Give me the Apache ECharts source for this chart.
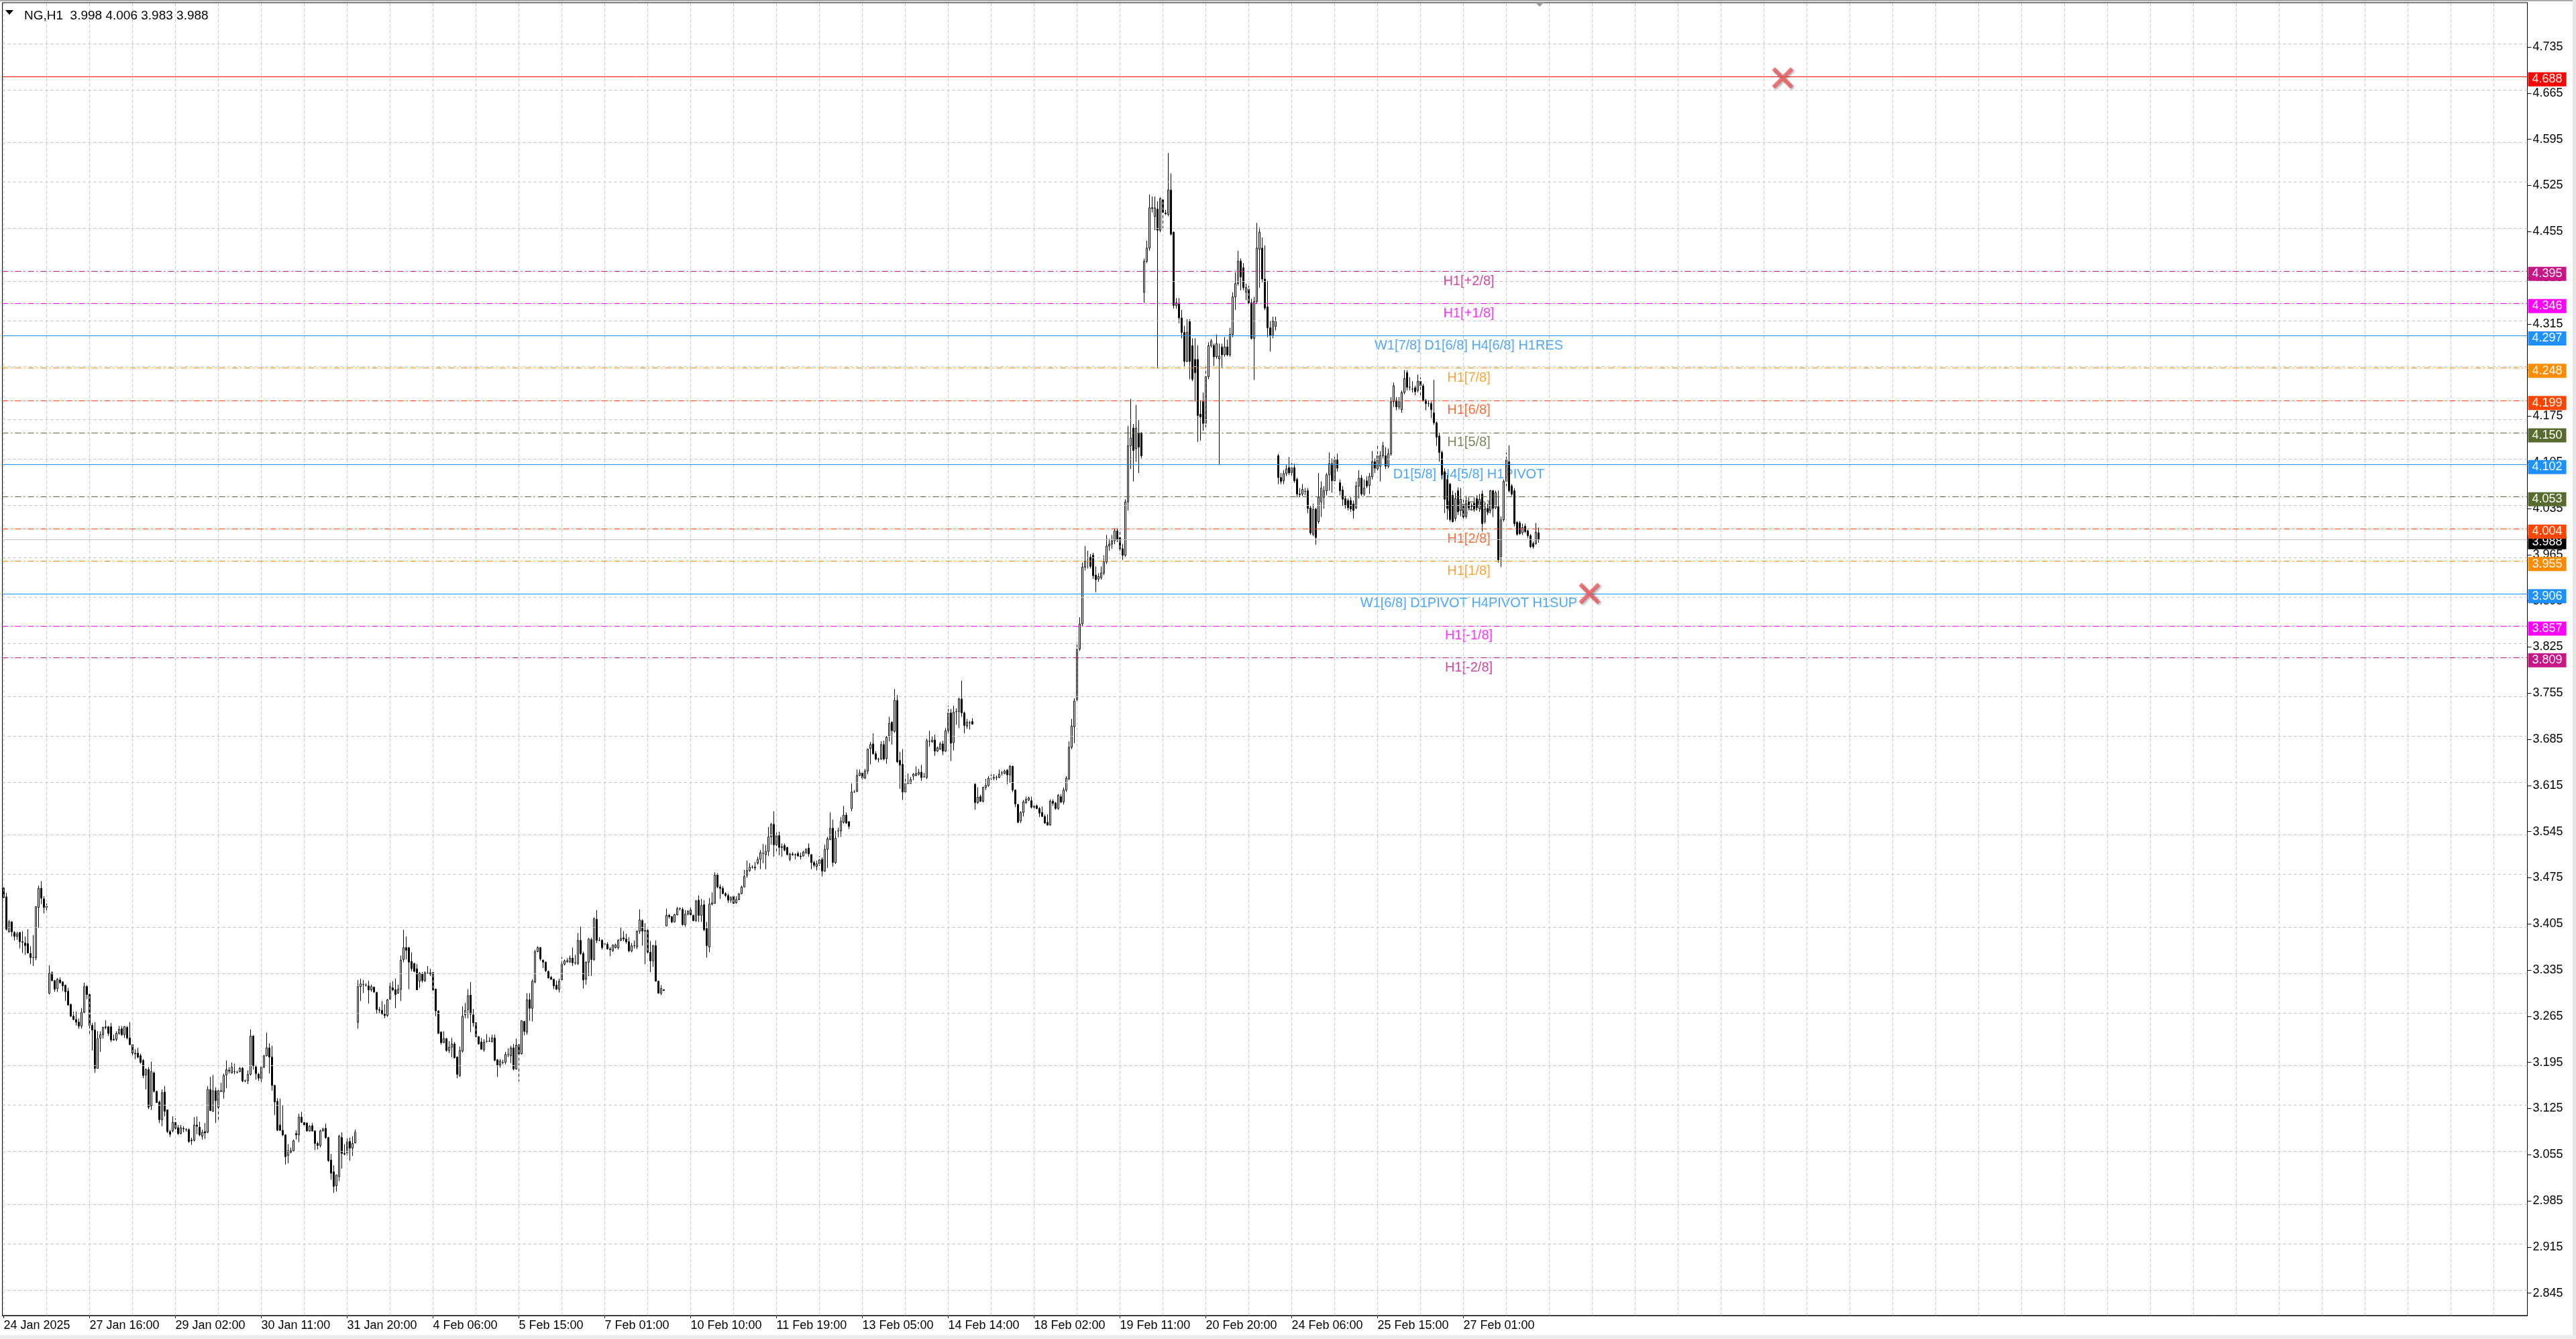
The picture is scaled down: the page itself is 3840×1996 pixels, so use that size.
<!DOCTYPE html>
<html>
<head>
<meta charset="utf-8">
<script src="https://cdn.jsdelivr.net/npm/echarts@6.0.0/dist/echarts.min.js"></script>
<style>
html,body{margin:0;padding:0;background:#fff;}
#chart{width:3840px;height:1996px;}
</style>
</head>
<body>
<div id="chart"></div>
<script>
// ---------------- DATA ----------------
// Hourly bars [open, high, low, close], grouped by price-gap clusters.
const segA = [
[3.459,3.461,3.444,3.445],[3.446,3.452,3.395,3.397],[3.393,3.411,3.392,3.408],[3.408,3.409,3.386,3.393],
[3.392,3.394,3.380,3.386],[3.386,3.393,3.381,3.390],[3.392,3.393,3.368,3.378],[3.378,3.394,3.361,3.377],
[3.376,3.386,3.358,3.372],[3.375,3.397,3.360,3.361],[3.360,3.371,3.344,3.354],[3.354,3.388,3.341,3.354],
[3.354,3.432,3.350,3.431],[3.430,3.463,3.399,3.459],[3.459,3.470,3.435,3.444],[3.443,3.447,3.421,3.430],
[3.430,3.436,3.425,3.432]
];
const segB = [
[3.300,3.342,3.298,3.330],[3.331,3.333,3.318,3.319],[3.319,3.320,3.302,3.306],[3.307,3.323,3.302,3.321],
[3.320,3.324,3.314,3.316],[3.317,3.318,3.303,3.311],[3.312,3.313,3.288,3.302],[3.303,3.308,3.281,3.282],
[3.283,3.284,3.264,3.265],[3.265,3.272,3.259,3.260],[3.260,3.272,3.251,3.256],[3.256,3.262,3.246,3.250],
[3.250,3.277,3.246,3.271],[3.271,3.316,3.269,3.310],[3.310,3.312,3.291,3.298],[3.298,3.299,3.235,3.251],
[3.251,3.255,3.213,3.244],[3.244,3.256,3.179,3.186],[3.186,3.242,3.186,3.231],[3.232,3.242,3.211,3.237],
[3.237,3.249,3.231,3.248],[3.248,3.259,3.245,3.249],[3.249,3.250,3.235,3.239],[3.249,3.255,3.226,3.229],
[3.230,3.237,3.228,3.229],[3.230,3.242,3.227,3.239],[3.239,3.250,3.237,3.245],[3.246,3.250,3.235,3.237],
[3.237,3.250,3.232,3.249],[3.248,3.250,3.230,3.232],[3.232,3.256,3.221,3.222],[3.222,3.222,3.202,3.209],
[3.209,3.215,3.200,3.208],[3.209,3.217,3.201,3.203],[3.205,3.208,3.193,3.195],[3.198,3.200,3.171,3.175],
[3.176,3.186,3.154,3.184],[3.184,3.188,3.124,3.127],[3.129,3.196,3.123,3.181],[3.179,3.181,3.149,3.151],
[3.151,3.152,3.134,3.134],[3.135,3.137,3.103,3.108],[3.108,3.154,3.098,3.149],[3.150,3.159,3.113,3.121],
[3.123,3.123,3.088,3.090],[3.090,3.093,3.082,3.086],[3.091,3.113,3.089,3.104],[3.104,3.110,3.093,3.095],
[3.096,3.100,3.085,3.087],[3.087,3.100,3.086,3.096],[3.094,3.098,3.089,3.095],[3.093,3.095,3.090,3.093],
[3.093,3.095,3.073,3.075],[3.077,3.081,3.070,3.076],[3.077,3.112,3.075,3.100],[3.100,3.113,3.086,3.098],
[3.097,3.105,3.083,3.085],[3.083,3.093,3.078,3.089],[3.090,3.103,3.079,3.088],[3.089,3.159,3.088,3.154],
[3.154,3.173,3.121,3.122],[3.121,3.176,3.120,3.152],[3.152,3.157,3.103,3.137],[3.127,3.157,3.107,3.152],
[3.152,3.164,3.150,3.151],[3.150,3.178,3.140,3.175],[3.176,3.198,3.156,3.184],[3.183,3.188,3.178,3.182],
[3.179,3.195,3.178,3.188],[3.181,3.193,3.177,3.181],[3.180,3.182,3.178,3.180],[3.181,3.188,3.180,3.186],
[3.186,3.188,3.165,3.167],[3.167,3.169,3.165,3.167],[3.167,3.183,3.162,3.177],[3.177,3.245,3.175,3.235],
[3.235,3.236,3.184,3.190],[3.188,3.191,3.169,3.178],[3.177,3.179,3.167,3.171],[3.170,3.189,3.165,3.188],
[3.188,3.206,3.186,3.205],[3.205,3.240,3.204,3.217],[3.217,3.224,3.178,3.203],[3.203,3.220,3.152,3.160],
[3.160,3.161,3.115,3.135],[3.136,3.141,3.091,3.092],[3.100,3.140,3.091,3.092],[3.092,3.130,3.083,3.085],
[3.085,3.086,3.040,3.052],[3.054,3.071,3.042,3.061],[3.059,3.066,3.057,3.061],[3.061,3.078,3.060,3.076],
[3.087,3.092,3.078,3.085],[3.085,3.117,3.074,3.112],[3.112,3.120,3.103,3.104],[3.104,3.106,3.098,3.100],
[3.103,3.104,3.090,3.091],[3.091,3.100,3.090,3.098],[3.099,3.103,3.090,3.091],[3.091,3.092,3.062,3.072],
[3.072,3.075,3.063,3.069],[3.069,3.093,3.066,3.091],[3.091,3.096,3.090,3.094],[3.095,3.102,3.079,3.081],
[3.081,3.082,3.044,3.046],[3.047,3.056,3.017,3.027],[3.029,3.039,2.997,3.007],[3.008,3.025,2.999,3.024],
[3.022,3.085,3.015,3.083],[3.081,3.089,3.034,3.057],[3.057,3.071,3.054,3.056],[3.057,3.083,3.054,3.075],
[3.075,3.081,3.046,3.065],[3.065,3.083,3.053,3.072],[3.073,3.093,3.072,3.089]
];
const segC = [
[3.256,3.320,3.246,3.310],[3.310,3.322,3.288,3.314],[3.313,3.320,3.300,3.313],[3.312,3.315,3.310,3.312],
[3.311,3.319,3.284,3.305],[3.305,3.313,3.302,3.310],[3.309,3.310,3.300,3.302],[3.301,3.302,3.269,3.275],
[3.275,3.279,3.269,3.274],[3.274,3.288,3.267,3.269],[3.269,3.283,3.262,3.266],[3.266,3.291,3.264,3.290],
[3.291,3.317,3.290,3.311],[3.308,3.318,3.303,3.305],[3.305,3.322,3.277,3.298],[3.300,3.313,3.299,3.306],
[3.306,3.357,3.288,3.350],[3.351,3.396,3.347,3.369],[3.369,3.386,3.351,3.365],[3.369,3.370,3.306,3.347],
[3.348,3.362,3.333,3.337],[3.345,3.346,3.332,3.333],[3.337,3.344,3.305,3.305],[3.318,3.332,3.308,3.330],
[3.329,3.332,3.316,3.319],[3.319,3.333,3.317,3.331],[3.330,3.341,3.329,3.330],[3.329,3.337,3.326,3.331],
[3.331,3.336,3.299,3.305],[3.306,3.307,3.265,3.273],[3.273,3.274,3.238,3.239],[3.241,3.242,3.222,3.225],
[3.225,3.242,3.224,3.231],[3.231,3.232,3.211,3.213],[3.213,3.227,3.209,3.218],[3.218,3.232,3.203,3.223],
[3.223,3.226,3.201,3.202],[3.203,3.204,3.171,3.177],[3.175,3.219,3.173,3.213],[3.212,3.280,3.210,3.265],
[3.267,3.285,3.262,3.274],[3.275,3.306,3.262,3.296],[3.297,3.317,3.241,3.268],[3.267,3.276,3.249,3.255],
[3.255,3.256,3.233,3.234],[3.234,3.235,3.222,3.223],[3.226,3.232,3.214,3.215],[3.214,3.230,3.211,3.226],
[3.227,3.238,3.225,3.227],[3.227,3.233,3.226,3.227],[3.226,3.237,3.226,3.232],[3.232,3.237,3.197,3.198],
[3.199,3.200,3.173,3.191],[3.191,3.200,3.187,3.197],[3.195,3.199,3.192,3.195],[3.195,3.211,3.192,3.207],
[3.207,3.216,3.203,3.207],[3.205,3.220,3.194,3.217],[3.217,3.223,3.183,3.185],[3.185,3.231,3.184,3.221],
[3.222,3.223,3.166,3.208],[3.208,3.259,3.207,3.258],[3.257,3.258,3.236,3.242],[3.241,3.300,3.237,3.290],
[3.290,3.300,3.258,3.277],[3.277,3.321,3.257,3.318],[3.317,3.366,3.315,3.363],[3.363,3.371,3.362,3.369],
[3.369,3.370,3.349,3.352],[3.350,3.351,3.338,3.347],[3.347,3.348,3.332,3.334],[3.333,3.334,3.322,3.323],
[3.324,3.326,3.320,3.321],[3.321,3.322,3.306,3.311],[3.312,3.319,3.305,3.306],[3.306,3.322,3.301,3.318],
[3.320,3.355,3.319,3.344],[3.344,3.351,3.342,3.349],[3.349,3.353,3.346,3.348],[3.347,3.357,3.346,3.353],
[3.353,3.369,3.341,3.346],[3.346,3.358,3.343,3.346],[3.345,3.391,3.343,3.380],[3.380,3.401,3.358,3.360],
[3.360,3.363,3.307,3.320],[3.321,3.348,3.313,3.347],[3.347,3.384,3.326,3.382],[3.381,3.384,3.326,3.351],
[3.351,3.415,3.349,3.413],[3.412,3.426,3.376,3.380],[3.380,3.385,3.379,3.380],[3.380,3.382,3.366,3.369],
[3.375,3.377,3.372,3.374],[3.374,3.377,3.366,3.367],[3.367,3.370,3.356,3.366],[3.364,3.374,3.363,3.373],
[3.369,3.375,3.368,3.373],[3.369,3.382,3.366,3.380],[3.380,3.400,3.379,3.383],[3.384,3.394,3.379,3.382],
[3.382,3.390,3.375,3.378],[3.378,3.385,3.362,3.364],[3.364,3.376,3.362,3.372],[3.372,3.380,3.368,3.372],
[3.370,3.395,3.367,3.394],[3.394,3.427,3.390,3.411],[3.410,3.412,3.372,3.394],[3.394,3.406,3.344,3.395],
[3.395,3.397,3.358,3.362],[3.362,3.379,3.332,3.349],[3.349,3.373,3.340,3.372],[3.372,3.380,3.318,3.318],
[3.318,3.319,3.299,3.300],[3.300,3.312,3.297,3.307],[3.305,3.306,3.304,3.304]
];
const segD = [
[3.402,3.428,3.401,3.418],[3.418,3.420,3.413,3.416],[3.416,3.417,3.406,3.408],[3.408,3.420,3.407,3.419],
[3.419,3.431,3.418,3.428],[3.428,3.430,3.425,3.428],[3.427,3.430,3.402,3.404],[3.404,3.426,3.401,3.420],
[3.420,3.426,3.418,3.424],[3.426,3.431,3.418,3.419],[3.418,3.419,3.409,3.410],[3.410,3.441,3.408,3.440],
[3.441,3.448,3.408,3.418],[3.418,3.443,3.408,3.433],[3.434,3.441,3.394,3.396],[3.398,3.408,3.354,3.372],
[3.370,3.444,3.362,3.435],[3.435,3.453,3.433,3.437],[3.436,3.483,3.436,3.479],[3.480,3.482,3.459,3.461],
[3.461,3.465,3.443,3.459],[3.459,3.462,3.450,3.451],[3.451,3.453,3.446,3.448],[3.448,3.451,3.437,3.441],
[3.441,3.447,3.437,3.445],[3.447,3.449,3.436,3.436],[3.437,3.447,3.436,3.442],[3.442,3.451,3.441,3.451],
[3.451,3.463,3.450,3.461],[3.461,3.487,3.461,3.477],[3.479,3.501,3.475,3.486],[3.486,3.497,3.484,3.491],
[3.491,3.494,3.489,3.491],[3.491,3.499,3.486,3.490],[3.497,3.507,3.495,3.503],[3.503,3.517,3.488,3.513],
[3.512,3.526,3.497,3.512],[3.510,3.525,3.488,3.515],[3.515,3.552,3.508,3.537],[3.537,3.558,3.525,3.556],
[3.556,3.576,3.507,3.525],[3.525,3.548,3.515,3.539],[3.539,3.545,3.509,3.521],[3.522,3.527,3.507,3.521],
[3.524,3.527,3.515,3.517],[3.521,3.522,3.509,3.510],[3.503,3.513,3.500,3.511],[3.511,3.514,3.508,3.510],
[3.510,3.512,3.503,3.510],[3.512,3.515,3.507,3.508],[3.508,3.513,3.503,3.507],[3.508,3.516,3.507,3.514],
[3.513,3.520,3.511,3.518],[3.520,3.527,3.507,3.511],[3.510,3.511,3.488,3.498],[3.498,3.501,3.491,3.494],
[3.492,3.501,3.486,3.496],[3.496,3.508,3.493,3.502],[3.503,3.506,3.477,3.485],[3.485,3.525,3.484,3.518],
[3.518,3.537,3.490,3.534],[3.533,3.574,3.532,3.550],[3.550,3.563,3.492,3.498],[3.498,3.546,3.496,3.535],
[3.546,3.551,3.536,3.546],[3.546,3.567,3.537,3.561],[3.559,3.584,3.557,3.570],[3.570,3.574,3.557,3.558],
[3.560,3.561,3.549,3.553],[3.580,3.618,3.576,3.605],[3.605,3.608,3.604,3.605],[3.606,3.639,3.605,3.630],
[3.630,3.639,3.629,3.634],[3.634,3.637,3.624,3.626],[3.626,3.640,3.625,3.637],[3.637,3.671,3.632,3.670],
[3.671,3.681,3.647,3.677],[3.678,3.694,3.662,3.663],[3.663,3.667,3.653,3.655],[3.655,3.657,3.650,3.655],
[3.655,3.682,3.654,3.677],[3.677,3.683,3.653,3.655],[3.656,3.690,3.648,3.688],[3.690,3.719,3.682,3.709],
[3.711,3.712,3.677,3.698],[3.697,3.761,3.695,3.744],[3.744,3.752,3.649,3.651],[3.653,3.666,3.610,3.646],
[3.647,3.670,3.593,3.605],[3.605,3.630,3.605,3.618],[3.618,3.633,3.618,3.618],[3.618,3.628,3.618,3.624],
[3.629,3.634,3.623,3.632],[3.630,3.644,3.629,3.633],[3.632,3.640,3.630,3.635],[3.635,3.646,3.622,3.627],
[3.628,3.634,3.627,3.628],[3.627,3.686,3.625,3.683],[3.682,3.698,3.674,3.682],[3.681,3.690,3.680,3.684],
[3.684,3.692,3.660,3.667],[3.667,3.674,3.666,3.672],[3.670,3.681,3.669,3.678],[3.678,3.683,3.661,3.667],
[3.667,3.702,3.666,3.698],[3.698,3.736,3.691,3.725],[3.725,3.731,3.652,3.679],[3.680,3.736,3.668,3.726],
[3.727,3.732,3.707,3.727],[3.727,3.748,3.702,3.746],[3.746,3.774,3.719,3.725],[3.725,3.727,3.694,3.706],
[3.705,3.716,3.701,3.711],[3.710,3.713,3.700,3.710],[3.712,3.717,3.707,3.708]
];
const segE = [
[3.617,3.618,3.578,3.589],[3.589,3.612,3.587,3.597],[3.598,3.601,3.590,3.591],[3.591,3.613,3.589,3.612],
[3.612,3.625,3.608,3.615],[3.615,3.629,3.613,3.626],[3.626,3.632,3.623,3.626],[3.626,3.632,3.623,3.627],
[3.627,3.630,3.623,3.627],[3.627,3.639,3.626,3.632],[3.634,3.637,3.630,3.634],[3.633,3.639,3.632,3.637],
[3.638,3.640,3.617,3.631],[3.631,3.646,3.619,3.644],[3.644,3.645,3.605,3.608],[3.608,3.609,3.582,3.587],
[3.586,3.587,3.558,3.559],[3.561,3.576,3.558,3.574],[3.574,3.593,3.568,3.590],[3.589,3.598,3.587,3.594],
[3.593,3.598,3.591,3.596],[3.592,3.598,3.580,3.582],[3.582,3.588,3.580,3.584],[3.584,3.586,3.579,3.580],
[3.580,3.582,3.567,3.573],[3.574,3.583,3.567,3.568],[3.568,3.571,3.557,3.558],[3.559,3.571,3.554,3.555],
[3.555,3.594,3.554,3.591],[3.591,3.594,3.584,3.588],[3.588,3.590,3.578,3.580],[3.580,3.602,3.578,3.600],
[3.598,3.602,3.588,3.590],[3.590,3.612,3.586,3.608],[3.608,3.629,3.605,3.626],[3.625,3.682,3.623,3.673],
[3.673,3.716,3.670,3.705],[3.704,3.747,3.679,3.743],[3.745,3.833,3.741,3.822],[3.822,3.870,3.819,3.860],
[3.860,3.953,3.856,3.946],[3.946,3.978,3.941,3.955],[3.955,3.971,3.944,3.955],[3.961,3.966,3.944,3.947],
[3.964,3.968,3.928,3.933],[3.934,3.947,3.908,3.927],[3.928,3.937,3.924,3.932],[3.930,3.947,3.927,3.937],
[3.937,3.964,3.934,3.954],[3.954,3.995,3.951,3.978],[3.978,3.989,3.971,3.981],[3.981,3.995,3.974,3.986],
[3.986,4.005,3.981,4.001],[4.001,4.005,3.984,3.988],[3.991,4.001,3.966,3.974],[3.974,3.981,3.957,3.964],
[3.964,4.049,3.962,4.045],[4.045,4.160,4.032,4.130],[4.130,4.201,4.095,4.142],[4.157,4.163,4.076,4.123],
[4.126,4.192,4.106,4.157],[4.149,4.169,4.089,4.128],[4.149,4.151,4.111,4.115]
];
const segF = [
[4.363,4.414,4.347,4.410],[4.410,4.441,4.407,4.430],[4.430,4.511,4.426,4.491],[4.491,4.508,4.484,4.490],
[4.478,4.508,4.457,4.491],[4.489,4.501,4.248,4.457],[4.457,4.507,4.454,4.505],[4.503,4.505,4.457,4.484],
[4.483,4.488,4.480,4.482],[4.481,4.574,4.478,4.518],[4.518,4.543,4.449,4.451],[4.454,4.455,4.338,4.343],
[4.343,4.354,4.338,4.347],[4.346,4.354,4.316,4.324],[4.324,4.336,4.293,4.302],[4.302,4.312,4.250,4.258],
[4.258,4.322,4.257,4.302],[4.319,4.322,4.231,4.258],[4.282,4.293,4.228,4.231],[4.261,4.293,4.197,4.241],
[4.261,4.282,4.136,4.176],[4.178,4.199,4.138,4.174],[4.197,4.211,4.153,4.164],[4.164,4.251,4.157,4.235],
[4.235,4.287,4.231,4.282],[4.282,4.292,4.279,4.289],[4.282,4.285,4.251,4.265],[4.265,4.299,4.262,4.285],
[4.262,4.285,4.101,4.266],[4.280,4.285,4.248,4.268],[4.268,4.295,4.265,4.280],[4.280,4.291,4.266,4.268],
[4.268,4.309,4.265,4.299],[4.299,4.363,4.295,4.356],[4.356,4.393,4.336,4.376],[4.376,4.426,4.373,4.410],
[4.410,4.414,4.366,4.386],[4.400,4.407,4.366,4.370],[4.363,4.376,4.351,4.370],[4.368,4.373,4.345,4.347],
[4.347,4.353,4.291,4.293],[4.293,4.356,4.230,4.349],[4.349,4.468,4.346,4.430],[4.428,4.461,4.370,4.454],
[4.430,4.446,4.378,4.383],[4.383,4.434,4.336,4.339],[4.341,4.380,4.295,4.309],[4.309,4.319,4.273,4.297],
[4.297,4.326,4.293,4.319],[4.311,4.326,4.305,4.319]
];
const segG = [
[4.115,4.118,4.072,4.082],[4.082,4.089,4.072,4.076],[4.077,4.093,4.072,4.088],[4.088,4.101,4.084,4.095],
[4.097,4.113,4.086,4.089],[4.089,4.104,4.084,4.097],[4.097,4.103,4.074,4.077],[4.079,4.082,4.052,4.057],
[4.057,4.066,4.052,4.056],[4.057,4.072,4.054,4.064],[4.061,4.066,4.055,4.061],[4.062,4.066,4.028,4.035],
[4.036,4.039,3.995,3.998],[3.996,4.042,3.993,4.034],[4.034,4.036,3.980,3.991],[4.015,4.089,4.012,4.052],
[4.045,4.076,4.022,4.066],[4.052,4.069,4.035,4.062],[4.062,4.089,4.055,4.086],[4.086,4.120,4.062,4.103],
[4.103,4.111,4.059,4.077],[4.077,4.116,4.072,4.109],[4.109,4.118,4.091,4.096],[4.074,4.079,4.055,4.062],
[4.063,4.069,4.039,4.049],[4.050,4.054,4.035,4.039],[4.047,4.050,4.032,4.036],[4.047,4.052,4.030,4.034],
[4.042,4.047,4.020,4.032],[4.036,4.076,4.034,4.069],[4.069,4.093,4.050,4.081],[4.081,4.086,4.054,4.057],
[4.057,4.079,4.054,4.066],[4.077,4.084,4.066,4.069],[4.070,4.089,4.057,4.084],[4.083,4.122,4.079,4.106],
[4.106,4.111,4.089,4.096],[4.095,4.133,4.091,4.115],[4.099,4.122,4.076,4.115],[4.115,4.136,4.111,4.130],
[4.115,4.128,4.095,4.099],[4.099,4.126,4.096,4.118],[4.118,4.204,4.115,4.197],[4.197,4.226,4.189,4.221],
[4.199,4.204,4.184,4.189],[4.189,4.204,4.185,4.197],[4.185,4.214,4.180,4.211],[4.211,4.245,4.208,4.232],
[4.241,4.245,4.214,4.219],[4.219,4.234,4.214,4.219],[4.216,4.228,4.211,4.216],[4.218,4.221,4.207,4.212],
[4.214,4.238,4.211,4.228],[4.228,4.234,4.204,4.221],[4.221,4.224,4.197,4.199],[4.199,4.201,4.184,4.194],
[4.194,4.199,4.189,4.194],[4.194,4.197,4.172,4.185],[4.180,4.230,4.162,4.165],[4.165,4.167,4.130,4.143],
[4.145,4.149,4.106,4.120],[4.120,4.123,4.079,4.086],[4.091,4.096,4.028,4.049],[4.079,4.086,4.018,4.035],
[4.072,4.074,4.015,4.018],[4.055,4.062,4.014,4.015],[4.020,4.059,4.016,4.050],[4.062,4.067,4.025,4.030],
[4.032,4.066,4.023,4.049],[4.042,4.052,4.018,4.022],[4.023,4.054,4.020,4.042],[4.045,4.052,4.032,4.036],
[4.038,4.043,4.032,4.038],[4.043,4.052,4.030,4.034],[4.050,4.055,4.032,4.036],[4.035,4.057,4.030,4.049],
[4.057,4.062,4.000,4.012],[4.015,4.043,4.012,4.034],[4.035,4.042,4.025,4.030],[4.032,4.063,4.028,4.062],
[4.062,4.063,4.022,4.035],[4.036,4.062,4.034,4.059],[4.038,4.062,3.953,3.957],[3.962,4.023,3.946,4.018],
[4.018,4.079,4.015,4.076],[4.076,4.120,4.069,4.109],[4.106,4.131,4.059,4.062],[4.069,4.072,4.054,4.057],
[4.062,4.066,4.008,4.012],[4.014,4.016,3.994,3.996],[4.013,4.016,3.995,3.997],[3.998,4.012,3.995,4.006],
[4.008,4.012,3.998,4.000],[4.001,4.003,3.990,3.994],[3.994,3.996,3.975,3.977],[3.982,3.985,3.974,3.977],
[3.982,4.013,3.980,3.999],[3.998,4.006,3.983,3.988]
];

// time-axis tick labels, one every 32 bars
const X_LABELS = ['24 Jan 2025','27 Jan 16:00','29 Jan 02:00','30 Jan 11:00','31 Jan 20:00','4 Feb 06:00',
  '5 Feb 15:00','7 Feb 01:00','10 Feb 10:00','11 Feb 19:00','13 Feb 05:00','14 Feb 14:00','18 Feb 02:00',
  '19 Feb 11:00','20 Feb 20:00','24 Feb 06:00','25 Feb 15:00','27 Feb 01:00'];
const Y_TICKS = [2.845,2.915,2.985,3.055,3.125,3.195,3.265,3.335,3.405,3.475,3.545,3.615,3.685,3.755,
  3.825,3.895,3.965,4.035,4.105,4.175,4.245,4.315,4.385,4.455,4.525,4.595,4.665,4.735];

// Murrey / pivot levels
const LEVEL_VALUES = [4.395,4.346,4.297,4.248,4.199,4.150,4.102,4.053,4.004,3.955,3.906,3.857,3.809];
const LEVEL_NAMES = ['H1[+2/8]','H1[+1/8]','W1[7/8] D1[6/8] H4[6/8] H1RES','H1[7/8]','H1[6/8]','H1[5/8]',
  'D1[5/8] H4[5/8] H1PIVOT','H1[3/8]','H1[2/8]','H1[1/8]','W1[6/8] D1PIVOT H4PIVOT H1SUP','H1[-1/8]','H1[-2/8]'];
const LEVEL_KINDS = ['m','m','p','m','m','m','p','m','m','m','p','m','m'];
const ALERT_LEVEL = 4.688;
const CURRENT_PRICE = 3.988;
const CROSS_POINTS = [[663, 4.688],[591, 3.906]];
const LEVEL_LABEL_SLOT = 546;
const TOTAL_SLOTS = 941;
const X_GRID_EVERY = 16;
const X_LABEL_EVERY = 32;

// ---------------- STYLES ----------------
const LEVEL_COLORS = ['#c71585','#ff00ff','#1e90ff','#ff8c00','#ff4500','#556b2f','#1e90ff','#556b2f','#ff4500','#ff8c00','#1e90ff','#ff00ff','#c71585'];
const FONT = 'Liberation Sans, Arial, sans-serif';
const DASHDOT = [9,4,2,4];
const GRID_STYLE = { color: '#c4c4c4', type: [4, 4], width: 1 };

const bars = [].concat(segA, segB, segC, segD, segE, segF, segG);
const categories = [];
for (let i = 0; i < TOTAL_SLOTS; i++) categories.push(String(i));
const candleData = bars.map(b => [b[0], b[3], b[2], b[1]]);
const last = bars[bars.length - 1];

// grid lines (drawn through the axes' own scales)
const gridLines = [];
Y_TICKS.forEach(v => gridLines.push({ yAxis: v }));
for (let i = 0; i < TOTAL_SLOTS; i += X_GRID_EVERY) gridLines.push({ xAxis: String(i) });

function tag(bg) {
  return { show: true, position: 'end', distance: 1, offset: [0, 4], backgroundColor: bg, color: '#fff',
    fontSize: 18, fontFamily: FONT, padding: [2, 6, 1, 6], lineHeight: 18 };
}
const markData = [];
markData.push({ yAxis: CURRENT_PRICE, lineStyle: { color: '#c0c0c0', type: 'solid', width: 1 },
  label: Object.assign(tag('#000000'), { formatter: CURRENT_PRICE.toFixed(3) }) });
LEVEL_VALUES.forEach((v, k) => {
  markData.push({ yAxis: v, lineStyle: { color: LEVEL_COLORS[k], type: LEVEL_KINDS[k] === 'p' ? 'solid' : DASHDOT, width: 1 },
    label: Object.assign(tag(LEVEL_COLORS[k]), { formatter: v.toFixed(3) }) });
});

const levelLabelData = LEVEL_VALUES.map((v, k) => ({
  value: [LEVEL_LABEL_SLOT, v],
  label: { formatter: LEVEL_NAMES[k], color: LEVEL_COLORS[k] }
}));

const showXLabel = (i) => i % X_LABEL_EVERY === 0 && i / X_LABEL_EVERY < X_LABELS.length;

const chart = echarts.init(document.getElementById('chart'), null, { renderer: 'canvas' });
chart.setOption({
  animation: false,
  backgroundColor: '#ffffff',
  title: {
    text: 'NG,H1  ' + last.map(v => v.toFixed(3)).join(' '),
    left: 31, top: 9,
    textStyle: { fontSize: 19, fontWeight: 'normal', color: '#000', fontFamily: FONT }
  },
  grid: { left: 3.5, right: 72.5, top: 4, bottom: 35, show: true, borderColor: '#000', borderWidth: 1, backgroundColor: 'transparent' },
  xAxis: {
    type: 'category', data: categories, boundaryGap: true,
    axisLine: { show: true, lineStyle: { color: '#000', width: 1 } },
    axisTick: { show: true, alignWithLabel: true, length: 4, lineStyle: { color: '#000' }, interval: showXLabel },
    axisLabel: { show: true, interval: showXLabel,
      formatter: (val, idx) => X_LABELS[Math.round(Number(val) / X_LABEL_EVERY)] || '',
      align: 'left', margin: 6, fontSize: 18, color: '#000', fontFamily: FONT },
    splitLine: { show: false }
  },
  yAxis: {
    type: 'value', position: 'right', min: 2.8111, max: 4.8021,
    axisLine: { show: true, lineStyle: { color: '#000' } },
    axisTick: { show: true, customValues: Y_TICKS, length: 6, lineStyle: { color: '#000' } },
    axisLabel: { show: true, customValues: Y_TICKS, formatter: (v) => Number(v).toFixed(3),
      margin: 8, fontSize: 18, color: '#000', fontFamily: FONT },
    splitLine: { show: false }
  },
  series: [
    {
      type: 'line', data: [], z: 0, silent: true,
      markLine: { silent: true, symbol: ['none', 'none'], animation: false, label: { show: false },
        lineStyle: GRID_STYLE, data: gridLines }
    },
    {
      type: 'line', data: [], z: 1, silent: true, color: '#ff0000',
      markLine: { silent: true, symbol: ['none', 'none'], animation: false,
        lineStyle: { color: '#ff0000', type: 'solid', width: 1 },
        data: [{ yAxis: ALERT_LEVEL, label: Object.assign(tag('#ff0000'), { formatter: ALERT_LEVEL.toFixed(3) }) }] }
    },
    {
      type: 'line', data: [], z: 1, silent: true,
      markLine: { silent: true, symbol: ['none', 'none'], animation: false, precision: 3, data: markData }
    },
    {
      type: 'scatter', data: levelLabelData, z: 1, silent: true, symbolSize: 0,
      label: { show: true, position: 'bottom', distance: 5, fontSize: 20, fontFamily: FONT }
    },
    {
      type: 'candlestick', data: candleData, z: 3, silent: true, barWidth: 2,
      itemStyle: { color: '#ffffff', color0: '#000000', borderColor: '#000000', borderColor0: '#000000', borderWidth: 1 }
    },
    {
      type: 'scatter', data: CROSS_POINTS, z: 5, silent: true, symbolSize: 32,
      symbol: 'path://M4,0 L15,11 L26,0 L30,4 L19,15 L30,26 L26,30 L15,19 L4,30 L0,26 L11,15 L0,4 Z',
      itemStyle: { color: '#e8585a', shadowBlur: 3, shadowColor: 'rgba(0,0,0,0.35)', shadowOffsetX: 2, shadowOffsetY: 2 }
    }
  ],
  graphic: [
    { type: 'rect', shape: { x: 0, y: 0, width: 3840, height: 2 }, style: { fill: '#a9a9a9' }, silent: true },
    { type: 'rect', shape: { x: 3835, y: 0, width: 5, height: 1996 }, style: { fill: '#e6e6e6' }, silent: true },
    { type: 'rect', shape: { x: 0, y: 1990, width: 3840, height: 6 }, style: { fill: '#ececec' }, silent: true },
    { type: 'polygon', shape: { points: [[8, 15], [20, 15], [14, 22]] }, style: { fill: '#000' }, silent: true },
    { type: 'polygon', shape: { points: [[2289, 4], [2301, 4], [2295, 10]] }, style: { fill: '#9a9a9a' }, silent: true }
  ]
});
</script>
</body>
</html>
